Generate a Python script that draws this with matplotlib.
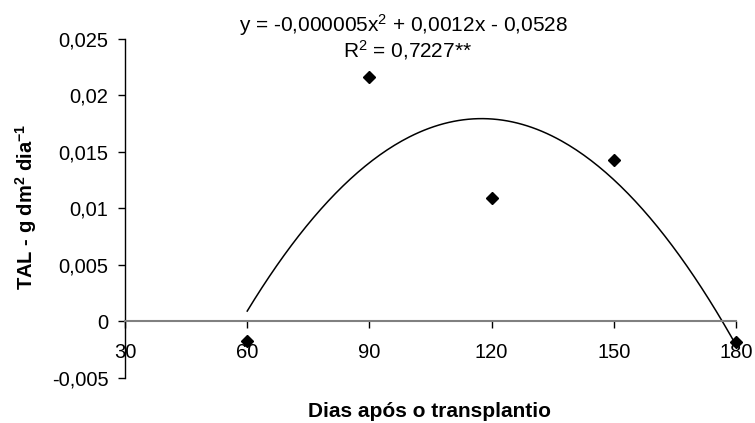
import matplotlib
matplotlib.use('Agg')
import matplotlib.pyplot as plt
import numpy as np

plt.rcParams['font.family'] = ['Liberation Sans', 'DejaVu Sans']
plt.rcParams['mathtext.fontset'] = 'custom'
plt.rcParams['mathtext.rm'] = 'Liberation Sans'
plt.rcParams['mathtext.it'] = 'Liberation Sans'
plt.rcParams['mathtext.bf'] = 'Liberation Sans:bold'

dias = [60, 90, 120, 150, 180]
tal = [-0.0017, 0.0216, 0.0109, 0.0143, -0.0018]
xticks = [30, 60, 90, 120, 150, 180]
yticks = [-0.005, 0, 0.005, 0.01, 0.015, 0.02, 0.025]
ylabels = ['-0,005', '0', '0,005', '0,01', '0,015', '0,02', '0,025']
equacao = 'y = -0,000005x$^{\\mathrm{2}}$ + 0,0012x - 0,0528'
r2 = 'R$^{\\mathrm{2}}$ = 0,7227**'

fig = plt.figure(figsize=(7.55, 4.23), dpi=100)
ax = fig.add_axes([0.1656, 0.1064, 0.8092, 0.8021])

# trend line (quadratic fit of the points, as the spreadsheet did)
coef = np.polyfit(dias, tal, 2)
xs = np.linspace(min(dias), max(dias), 200)
ax.plot(xs, np.polyval(coef, xs), color='black', lw=1.1, clip_on=False)
ax.plot(dias, tal, 'D', color='black', ms=6, zorder=3, clip_on=False)

ax.set_xlim(30, 180)
ax.set_ylim(-0.005, 0.025)
ax.set_xticks(xticks)
ax.set_xticklabels([str(v) for v in xticks])
ax.set_yticks(yticks)
ax.set_yticklabels(ylabels)

for s in ['top', 'right']:
    ax.spines[s].set_visible(False)
ax.spines['bottom'].set_position(('data', 0))
ax.spines['bottom'].set_color('#808080')
ax.spines['bottom'].set_linewidth(1.5)
ax.spines['left'].set_linewidth(1)
ax.tick_params(axis='x', direction='out', length=5, width=1, color='black', pad=10.5, labelsize=14.5)
ax.tick_params(axis='y', direction='out', length=5, width=1, pad=7, labelsize=14.5)

fig.text(0.5695, 0.028, 'Dias após o transplantio', ha='center', va='center',
         fontsize=15, fontweight='bold')
fig.text(0.034, 0.51, 'TAL - g dm$^{\\mathbf{2}}$ dia$^{\\mathbf{-1}}$', ha='center', va='center',
         rotation=90, fontsize=14.5, fontweight='bold')

fig.text(0.535, 0.94, equacao, ha='center', va='center', fontsize=15)
fig.text(0.54, 0.882, r2, ha='center', va='center', fontsize=15)

fig.savefig('out.png', dpi=100)
